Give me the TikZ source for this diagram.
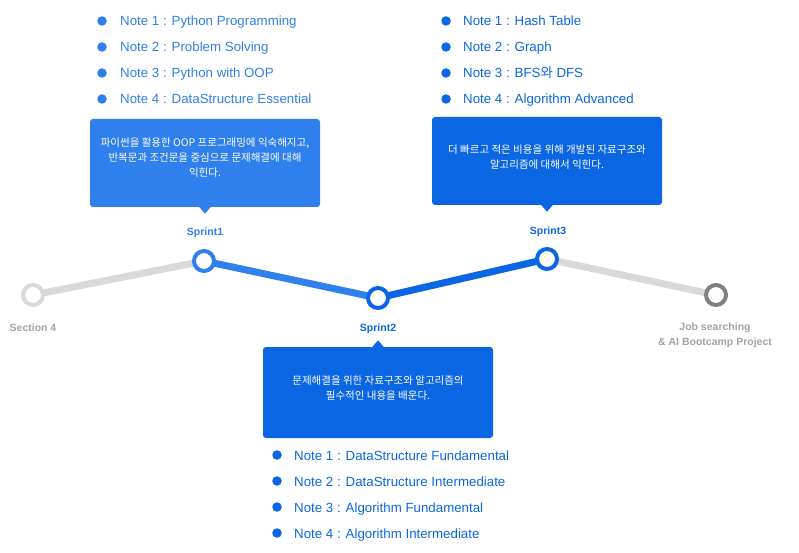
\documentclass[tikz,border=0pt]{standalone}
\usepackage{fontspec}
\setmainfont{Liberation Sans}
\newfontfamily\kr{Noto Sans CJK KR}
\usetikzlibrary{backgrounds}
\definecolor{lightblue}{HTML}{2F80ED}
\definecolor{deepblue}{HTML}{0B66E4}
\definecolor{trackgray}{HTML}{D9D9D9}
\definecolor{endgray}{HTML}{808080}
\definecolor{labelgray}{HTML}{A3A3A3}

\begin{document}
\begin{tikzpicture}[x=1pt, y=-1pt,
  stop/.style = {circle, draw=#1, line width=4pt, fill=white, minimum size=20pt, inner sep=0pt},
  track/.style = {draw=#1, line width=7pt},
  tag/.style = {font=\bfseries\fontsize{10.5}{15}\selectfont, text=#1, align=center},
  bubble/.style = {fill=#1, rounded corners=3pt, minimum width=230pt, inner sep=0pt},
  bubbletext/.style = {text=white, align=center, font=\kr\fontsize{10.5}{15}\selectfont},
  dot/.style = {circle, fill=#1, minimum size=9.5pt, inner sep=0pt},
  note/.style = {anchor=base west, text=#1, font=\fontsize{13.3}{16}\selectfont, inner sep=0pt}]

  \useasboundingbox (0,0) rectangle (799,553);

  % timeline stops
  \node[stop=trackgray] (sec) at (33,295) {};
  \node[stop=lightblue] (sp1) at (204,261) {};
  \node[stop=deepblue] (sp2) at (378,298) {};
  \node[stop=deepblue] (sp3) at (547,259) {};
  \node[stop=endgray] (job) at (716,295) {};

  \begin{scope}[on background layer]
    \draw[track=trackgray] (sec.center) -- (sp1.center);
    \draw[track=lightblue] (sp1.center) -- (sp2.center);
    \draw[track=deepblue] (sp2.center) -- (sp3.center);
    \draw[track=trackgray] (sp3.center) -- (job.center);
  \end{scope}

  % labels
  \node[tag=labelgray] (secl) at (33,328) {Section 4};
  \node[tag=lightblue] (sp1l) at (205,233) {Sprint1};
  \node[tag=deepblue] (sp2l) at (378,329) {Sprint2};
  \node[tag=deepblue] (sp3l) at (548,232) {Sprint3};
  \node[tag=labelgray] (jobl) at (715,335.5) {Job searching\\\& AI Bootcamp Project};

  % bubbles
  \node[bubble=lightblue, minimum height=88pt] (box1) at (205,163) {};
  \fill[lightblue] ([xshift=-6pt,yshift=0.5pt]box1.south) -- ++(12,0) -- ++(-6,7) -- cycle;
  \node[bubbletext] (txt1) at ([yshift=5pt]box1.center)
    {파이썬을 활용한 OOP 프로그래밍에 익숙해지고,\\반복문과 조건문을 중심으로 문제해결에 대해\\익힌다.};

  \node[bubble=deepblue, minimum height=88pt] (box2) at (547,161) {};
  \fill[deepblue] ([xshift=-6pt,yshift=0.5pt]box2.south) -- ++(12,0) -- ++(-6,7) -- cycle;
  \node[bubbletext] (txt2) at ([yshift=4pt]box2.center)
    {더 빠르고 적은 비용을 위해 개발된 자료구조와\\알고리즘에 대해서 익힌다.};

  \node[bubble=deepblue, minimum height=91pt] (box3) at (378,392.5) {};
  \fill[deepblue] ([xshift=-6pt,yshift=-0.5pt]box3.north) -- ++(12,0) -- ++(-6,-7) -- cycle;
  \node[bubbletext] (txt3) at ([yshift=4pt]box3.center)
    {문제해결을 위한 자료구조와 알고리즘의\\필수적인 내용을 배운다.};

  % note lists
  \foreach \i/\txt in {1/Python Programming, 2/Problem Solving, 3/Python with OOP, 4/DataStructure Essential} {
    \node[dot=lightblue] (da\i) at (102,{21+26*(\i-1)}) {};
    \node[note=lightblue] (na\i) at (120,{26+26*(\i-1)}) {Note \i\ : \txt};
  }
  \foreach \i/\txt in {1/Hash Table, 2/Graph, 3/{BFS{\kr 와} DFS}, 4/Algorithm Advanced} {
    \node[dot=deepblue] (dc\i) at (446,{21+26*(\i-1)}) {};
    \node[note=deepblue] (nc\i) at (463,{26+26*(\i-1)}) {Note \i\ : \txt};
  }
  \foreach \i/\txt in {1/DataStructure Fundamental, 2/DataStructure Intermediate, 3/Algorithm Fundamental, 4/Algorithm Intermediate} {
    \node[dot=deepblue] (db\i) at (277,{455+26*(\i-1)}) {};
    \node[note=deepblue] (nb\i) at (294,{460+26*(\i-1)}) {Note \i\ : \txt};
  }
\end{tikzpicture}
\end{document}
